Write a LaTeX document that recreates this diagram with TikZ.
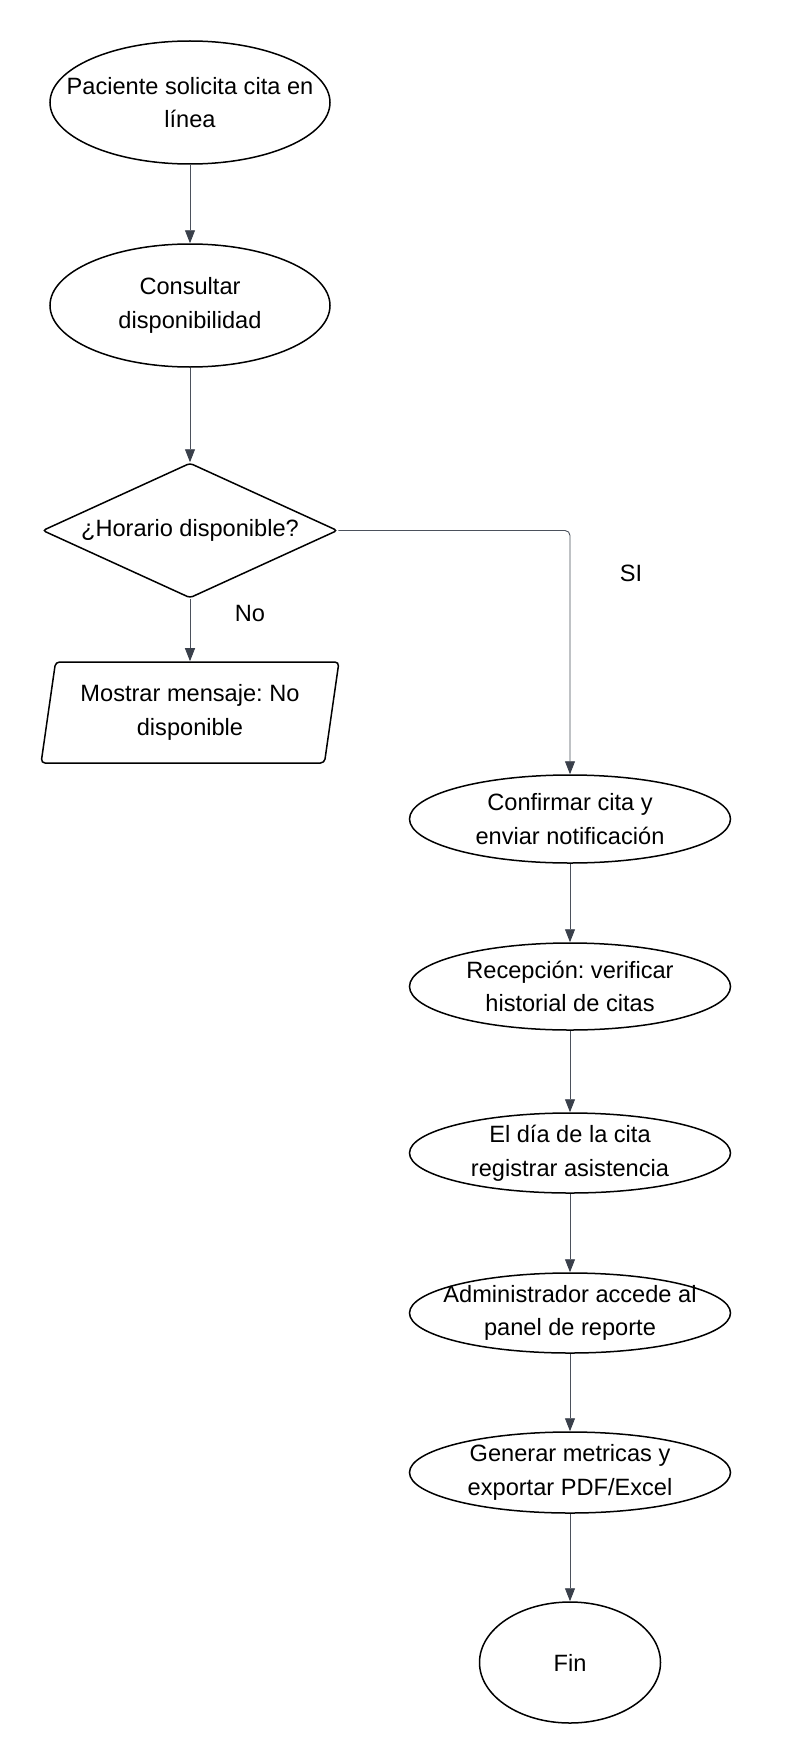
\documentclass[tikz,border=0pt]{standalone}
\usepackage{fontspec}
\setmainfont{Liberation Sans}
\usetikzlibrary{shapes.geometric,arrows.meta}
\definecolor{edgecol}{HTML}{4B515C}
\definecolor{tipcol}{HTML}{3A404B}
\tikzset{
  every node/.style={font=\fontsize{23.6}{33.5}\selectfont\frenchspacing, align=center, inner sep=0pt},
  oval/.style={ellipse, draw=black, line width=1.5pt, fill=white, inner xsep=-110pt, inner ysep=-40pt},
  choice/.style={diamond, draw=black, line width=1.5pt, rounded corners=3pt, inner xsep=-110pt, inner ysep=-40pt},
  io/.style={trapezium, trapezium left angle=78, trapezium right angle=102, trapezium stretches=true, draw=black, line width=1.5pt, rounded corners=4pt},
  flow/.style={draw=edgecol, line width=0.9pt, -{Triangle[length=13pt,width=10pt,color=tipcol]}},
  lbl/.style={font=\fontsize{23.6}{33.5}\selectfont}
}
\begin{document}
\begin{tikzpicture}[x=1pt,y=-1pt]
\useasboundingbox (0,0) rectangle (790,1763);
\node[oval, minimum width=280pt, minimum height=123pt] (n1) at (190,102.5) {Paciente solicita cita en\\línea};
\node[oval, minimum width=280pt, minimum height=123pt] (n2) at (190,305.5) {Consultar\\disponibilidad};
\node[choice, minimum width=295pt, minimum height=135pt] (d) at (190,530.5) {¿Horario disponible?};
\node[io, minimum width=298pt, minimum height=101pt] (p) at (190,712.5) {Mostrar mensaje: No\\disponible};
\node[oval, minimum width=321pt, minimum height=88pt] (c1) at (570,819) {Confirmar cita y\\enviar notificación};
\node[oval, minimum width=321pt, minimum height=87pt] (c2) at (570,986.5) {Recepción: verificar\\historial de citas};
\node[oval, minimum width=321pt, minimum height=80pt] (c3) at (570,1153) {El día de la cita\\registrar asistencia};
\node[oval, minimum width=321pt, minimum height=80pt] (c4) at (570,1313) {Administrador accede al\\panel de reporte};
\node[oval, minimum width=321pt, minimum height=81pt] (c5) at (570,1472.5) {Generar metricas y\\exportar PDF/Excel};
\node[oval, minimum width=181pt, minimum height=121pt] (f) at (570,1662.5) {Fin};
\node[lbl] (lno) at (250,613) {No};
\node[lbl] (lsi) at (631,573) {SI};
\draw[flow] (n1) -- (n2);
\draw[flow] (n2) -- (d);
\draw[flow] (d) -- (p);
\draw[flow, rounded corners=5pt] (d.east) -| (c1.north);
\draw[flow] (c1) -- (c2);
\draw[flow] (c2) -- (c3);
\draw[flow] (c3) -- (c4);
\draw[flow] (c4) -- (c5);
\draw[flow] (c5) -- (f);
\end{tikzpicture}
\end{document}
